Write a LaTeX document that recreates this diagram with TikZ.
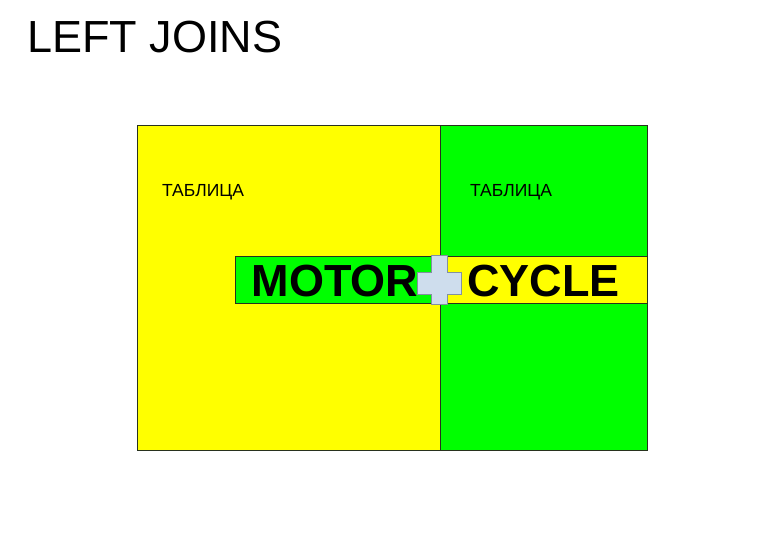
\documentclass[tikz,border=0pt]{standalone}
\usepackage{fontspec}
\setmainfont{Liberation Sans}
\definecolor{yel}{RGB}{255,255,0}
\definecolor{grn}{RGB}{0,255,0}
\definecolor{plusfill}{RGB}{206,221,237}
\definecolor{plusline}{RGB}{130,145,160}
\definecolor{edge}{RGB}{40,50,30}
\begin{document}
\begin{tikzpicture}[x=1pt,y=-1pt,
  box/.style={draw=edge,line width=0.8pt,inner sep=0pt,anchor=north west},
  tabl/.style={font=\fontsize{17.5}{20}\selectfont,inner sep=0pt,anchor=base},
  big/.style={font=\fontsize{45}{50}\selectfont\bfseries,inner sep=0pt,anchor=base}]
\useasboundingbox (0,0) rectangle (761,542);
\node[font=\fontsize{45}{52}\selectfont,inner sep=0pt,anchor=base west] (title) at (27,52) {LEFT JOINS};
\node[box,fill=yel,minimum width=303pt,minimum height=325pt] (ltab) at (137,125) {};
\node[box,fill=grn,minimum width=207pt,minimum height=325pt] (rtab) at (440,125) {};
\node[box,fill=grn,minimum width=205pt,minimum height=47pt] (lstrip) at (235,256) {};
\node[box,fill=yel,minimum width=207pt,minimum height=47pt] (rstrip) at (440,256) {};
\node[tabl] (lt) at (203,196) {ТАБЛИЦА};
\node[tabl] (rt) at (511,196) {ТАБЛИЦА};
\draw[fill=plusfill,draw=plusline,line width=0.6pt]
  (431,255) -- (447,255) -- (447,272) -- (461,272) -- (461,294) -- (447,294)
  -- (447,304) -- (431,304) -- (431,294) -- (417,294) -- (417,272) -- (431,272) -- cycle;
\node[big] (motor) at (335,296) {MOTOR};
\node[big] (cycle) at (543.5,296) {CYCLE};
\end{tikzpicture}
\end{document}
